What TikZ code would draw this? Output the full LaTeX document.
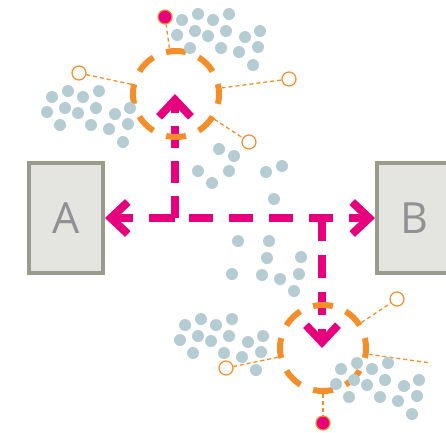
\documentclass[tikz,border=0pt]{standalone}
\usepackage{fontspec}
\setsansfont{Open Sans}
\usepackage{tikz}
\usetikzlibrary{arrows.meta,positioning,backgrounds}
\definecolor{flowpink}{RGB}{230,0,126}
\definecolor{huborange}{RGB}{244,142,42}
\definecolor{speckblue}{RGB}{181,204,211}
\definecolor{boxfill}{RGB}{228,229,224}
\definecolor{boxline}{RGB}{155,155,140}
\definecolor{boxtext}{RGB}{145,145,148}
\tikzset{
    party/.style={
           rectangle,
           draw=boxline, line width=4pt,
           fill=boxfill,
           minimum width=74pt,
           minimum height=110pt,
           inner sep=0pt,
           text=boxtext,
           font=\sffamily\fontsize{43}{43}\selectfont,
           },
    hub/.style={
           circle,
           draw=huborange, line width=6pt,
           minimum size=86pt,
           inner sep=0pt,
           dash pattern=on 20pt off 13.77pt,
           dash phase=10pt,
           },
    ring/.style={
           circle,
           draw=huborange, line width=1.2pt,
           fill=white,
           minimum size=14pt,
           inner sep=0pt,
           },
    pin/.style={
           ring,
           fill=flowpink,
           },
    flow/.style={
           draw=flowpink, line width=8pt,
           dash pattern=on 24pt off 16pt,
           -{Straight Barb[length=17pt,width=32pt]},
           },
    vflow/.style={
           flow,
           dash pattern=on 22pt off 13pt,
           },
    link/.style={
           draw=huborange, line width=1.3pt,
           dash pattern=on 4pt off 3pt,
           },
    speck/.style={fill=speckblue},
}

\begin{document}
\begin{tikzpicture}[x=1pt,y=-1pt]
 \useasboundingbox (0,0) rectangle (446,432);
 \clip (0,0) rectangle (446,432);

 % STATE A
 \node[party] (A) at (66,218) {A};

 % STATE B, same row as A
 \node[party,
 right of=A,
 node distance=348pt] (B) {B};

 % the two dashed hubs
 \node[hub] (HN) at (176,94) {};
 \node[hub] (HS) at (323,348) {};

 % where the flows split
 \coordinate (J1) at (175,218);
 \coordinate (J2) at (322,218);

 % satellites round the upper hub
 \node[pin]  (PN)  at (165,17) {};
 \node[ring] (RNW) at (79,73) {};
 \node[ring] (RNE) at (289,79) {};
 \node[ring] (RNS) at (249,142) {};

 % satellites round the lower hub
 \node[ring] (RSE) at (397,299) {};
 \node[ring] (RSW) at (226,368) {};
 \node[pin]  (PS)  at (323,423) {};
 \coordinate (ESE) at (431,363);

 % dashed links from hubs to satellites
 \path (HN) edge[link] (PN)
       (HN) edge[link] (RNW)
       (HN) edge[link] (RNE)
       (HN) edge[link] (RNS)
       (HS) edge[link] (RSE)
       (HS) edge[link] (RSW)
       (HS) edge[link] (PS)
       (HS) edge[link] (ESE)
 ;

 % the pink flows go under the hubs
 \begin{pgfonlayer}{background}
 \path (J1) edge[flow, dash pattern=on 26pt off 16pt] (A)
       (J1) edge[vflow] (J1 |- HN.center)
       (J1) edge[flow, dash phase=26pt] (B)
       (J2) edge[vflow, dash pattern=on 23pt off 14pt] (J2 |- HS.center)
 ;
 \end{pgfonlayer}

 % specks: four clusters of the same shape
 \foreach \cx/\cy in {182/20, 52/97, 185/325, 341/369}
   \foreach \dx/\dy in {0/0, 16/-6, 31/0, 47/-6, -5/15, 13/11, 26/16, 44/11,
                        63/17, 78/11, 8/28, 39/28, 57/32, 76/27, 71/45}
     \fill[speck] (\cx+\dx,\cy+\dy) circle (6pt);

 % loose specks in the middle
 \foreach \px/\py in {219/149, 234/156, 198/171, 229/171, 212/183, 266/172,
                      282/166, 274/199, 238/241, 269/241, 267/258, 301/257,
                      232/274, 262/275, 280/279, 299/274, 294/291}
   \fill[speck] (\px,\py) circle (6pt);
\end{tikzpicture}
\end{document}
